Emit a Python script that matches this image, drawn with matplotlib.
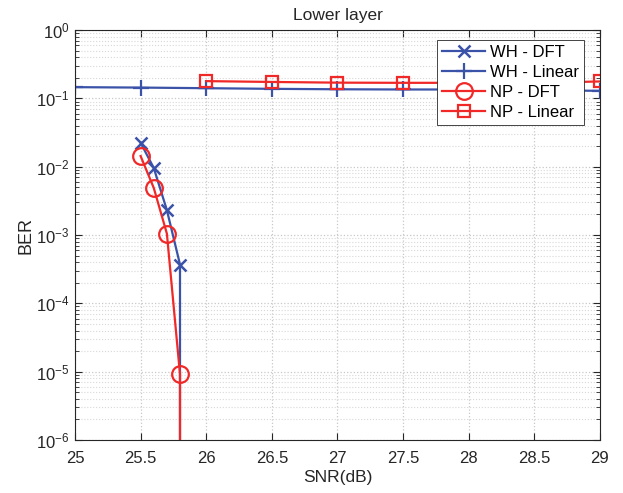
import numpy as np
import matplotlib.pyplot as plt
from matplotlib.ticker import FixedLocator, NullFormatter

plt.rcParams['font.family'] = ['Liberation Sans', 'DejaVu Sans']

# data (last DFT points drop below the axis)
snr_dft = [25.5, 25.6, 25.7, 25.8, 25.8]
ber_wh_dft = [0.0224, 0.0096, 0.00232, 0.00037, 1e-12]
ber_np_dft = [0.0143, 0.0049, 0.00105, 9.2e-6, 1e-12]

snr_wh_lin = [25, 25.5, 26, 26.5, 27, 27.5, 28, 28.5, 29]
ber_wh_lin = [0.146, 0.144, 0.141, 0.138, 0.136, 0.135, 0.135, 0.132, 0.129]

snr_np_lin = [26, 26.5, 27, 27.5, 28, 28.5, 29]
ber_np_lin = [0.179, 0.174, 0.170, 0.169, 0.169, 0.168, 0.177]

x_ticks = [25, 25.5, 26, 26.5, 27, 27.5, 28, 28.5, 29]
x_labels = ['25', '25.5', '26', '26.5', '27', '27.5', '28', '28.5', '29']
y_exps = [-6, -5, -4, -3, -2, -1, 0]

blue = '#3a52a8'
red = '#f02828'

fig = plt.figure(figsize=(6.23, 4.93), dpi=100)
ax = fig.add_axes([0.1204, 0.1075, 0.8426, 0.8315])

ax.semilogy(snr_dft, ber_wh_dft, '-x', color=blue, lw=1.6, ms=9, mew=1.8, label='WH - DFT')
ax.semilogy(snr_wh_lin, ber_wh_lin, '-+', color=blue, lw=1.6, ms=12, mew=1.6, label='WH - Linear')
ax.semilogy(snr_dft, ber_np_dft, '-o', color=red, lw=1.6, ms=12, mew=1.6, mfc='none', label='NP - DFT')
ax.semilogy(snr_np_lin, ber_np_lin, '-s', color=red, lw=1.6, ms=9, mew=1.6, mfc='none', label='NP - Linear')

ax.set_xlim(25, 29)
ax.set_ylim(1e-6, 1)
ax.set_xticks(x_ticks)
ax.set_xticklabels(x_labels)
ax.set_yticks([10.0 ** e for e in y_exps])
ax.set_yticklabels([r'$\mathdefault{10^{%d}}$' % e for e in y_exps])
minor = [m * 10.0 ** e for e in y_exps[:-1] for m in range(2, 10)]
ax.yaxis.set_minor_locator(FixedLocator(minor))
ax.yaxis.set_minor_formatter(NullFormatter())

ax.tick_params(which='both', direction='in', top=True, right=True, labelsize=12, colors='#262626')
ax.tick_params(which='major', length=5)
ax.tick_params(which='minor', length=3)
ax.tick_params(axis='x', pad=8)
ax.tick_params(axis='y', pad=4)
ax.grid(which='major', color='#c8c8c8', ls=':', lw=0.9)
ax.grid(which='minor', color='#d8d8d8', ls=':', lw=0.8)
for s in ax.spines.values():
    s.set_color('#262626')

ax.set_xlabel('SNR(dB)', fontsize=12.5, color='#262626', labelpad=3)
ax.set_ylabel('BER', fontsize=13, color='#262626', labelpad=1)
ax.set_title('Lower layer', fontsize=12.5, color='#262626', pad=7)

leg = ax.legend(loc='upper right', bbox_to_anchor=(0.97, 0.975), fontsize=12, handlelength=2.6,
                fancybox=False, edgecolor='#262626', framealpha=1, borderpad=0.3,
                labelspacing=0.3, handletextpad=0.3, borderaxespad=0)
leg.get_frame().set_linewidth(0.6)

fig.savefig('out.png', dpi=100)
